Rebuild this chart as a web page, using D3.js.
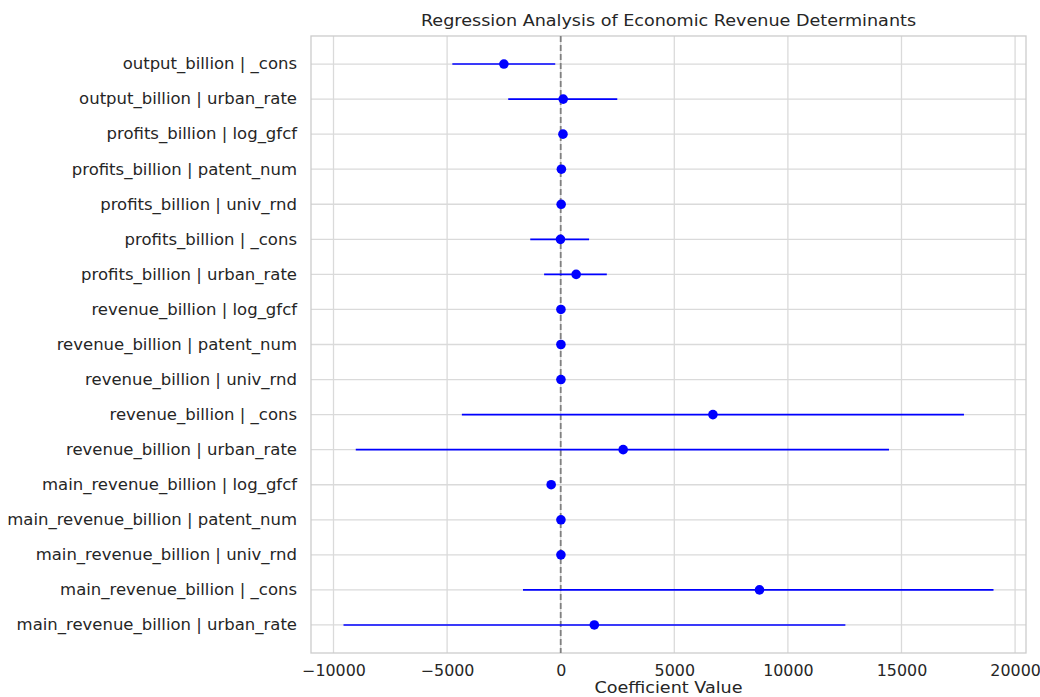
<!DOCTYPE html>
<html><head><meta charset="utf-8">
<script src="https://cdn.jsdelivr.net/npm/d3@7"></script>
<style>body{margin:0;background:#fff;} svg{display:block;}</style>
</head><body>
<svg id="chart" width="1040" height="697"></svg>
<script>
const categories = [
  "output_billion | _cons",
  "output_billion | urban_rate",
  "profits_billion | log_gfcf",
  "profits_billion | patent_num",
  "profits_billion | univ_rnd",
  "profits_billion | _cons",
  "profits_billion | urban_rate",
  "revenue_billion | log_gfcf",
  "revenue_billion | patent_num",
  "revenue_billion | univ_rnd",
  "revenue_billion | _cons",
  "revenue_billion | urban_rate",
  "main_revenue_billion | log_gfcf",
  "main_revenue_billion | patent_num",
  "main_revenue_billion | univ_rnd",
  "main_revenue_billion | _cons",
  "main_revenue_billion | urban_rate"
];
const coef  = [-2500, 110, 100, 30, 20, -10, 680, 10, 10, 10, 6700, 2750, -420, 10, 10, 8750, 1480];
const ciLow = [-4770, -2310, 60, 0, 0, -1340, -730, 0, 0, 0, -4350, -9020, -600, 0, 0, -1660, -9560];
const ciHigh= [-240, 2490, 140, 60, 40, 1250, 2030, 20, 20, 20, 17750, 14450, -240, 20, 20, 19050, 12530];
const xTicks = [-10000, -5000, 0, 5000, 10000, 15000, 20000];
const title = "Regression Analysis of Economic Revenue Determinants";
const xLabel = "Coefficient Value";

const W = 1040, H = 697;
const m = {left: 311, right: 14, top: 36, bottom: 44};
const svg = d3.select("#chart");
const font = "DejaVu Sans, sans-serif";
const textColor = "#262626";
const SX = 1.1; // horizontal stretch of text
const SXT = 1.06;

const lo = d3.min(ciLow), hi = d3.max(ciHigh), pad = (hi - lo) * 0.05;
const x = d3.scaleLinear().domain([lo - pad, hi + pad]).range([m.left, W - m.right]);
const y = d3.scalePoint().domain(categories).range([m.top, H - m.bottom]).padding(0.8);

const g = svg.append("g");
g.selectAll(".vg").data(xTicks).join("line")
  .attr("x1", d => x(d)).attr("x2", d => x(d))
  .attr("y1", m.top).attr("y2", H - m.bottom)
  .attr("stroke", "#dadada").attr("stroke-width", 1.3);
g.selectAll(".hg").data(categories).join("line")
  .attr("x1", m.left).attr("x2", W - m.right)
  .attr("y1", d => y(d)).attr("y2", d => y(d))
  .attr("stroke", "#dadada").attr("stroke-width", 1.3);
g.append("rect").attr("x", m.left).attr("y", m.top)
  .attr("width", W - m.left - m.right).attr("height", H - m.top - m.bottom)
  .attr("fill", "none").attr("stroke", "#cccccc").attr("stroke-width", 1.3);

g.append("line").attr("x1", x(0)).attr("x2", x(0))
  .attr("y1", m.top).attr("y2", H - m.bottom)
  .attr("stroke", "#808080").attr("stroke-width", 1.8).attr("stroke-dasharray", "6,3");

const data = categories.map((c, i) => ({c, v: coef[i], l: ciLow[i], h: ciHigh[i]}));
g.selectAll(".eb").data(data).join("line")
  .attr("x1", d => x(d.l)).attr("x2", d => x(d.h))
  .attr("y1", d => y(d.c)).attr("y2", d => y(d.c))
  .attr("stroke", "#0000ff").attr("stroke-width", 1.6);
g.selectAll(".pt").data(data).join("circle")
  .attr("cx", d => x(d.v)).attr("cy", d => y(d.c)).attr("r", 4.8)
  .attr("fill", "#0000ff");

const xa = svg.append("g").attr("transform", `translate(0,${H - m.bottom})`)
  .call(d3.axisBottom(x).tickValues(xTicks).tickSize(0).tickPadding(12).tickFormat(d3.format("d")));
const ya = svg.append("g").attr("transform", `translate(${m.left},0)`)
  .call(d3.axisLeft(y).tickSize(0).tickPadding(14));
[xa, ya].forEach(a => {
  a.select(".domain").remove();
  a.selectAll("text").attr("font-family", font).attr("font-size", 15).attr("fill", textColor);
});
xa.selectAll("text").text(d => d < 0 ? "\u2212" + Math.abs(d) : d).attr("transform", `scale(${SXT},1)`);
ya.selectAll("text").attr("x", -14 / SX).attr("transform", `scale(${SX},1)`);

const cx = (m.left + W - m.right) / 2;
svg.append("text").attr("transform", `translate(${cx},26) scale(${SX},1)`)
  .attr("text-anchor", "middle").attr("font-family", font).attr("font-size", 16)
  .attr("fill", textColor).text(title);
svg.append("text").attr("transform", `translate(${cx},693) scale(${SX},1)`)
  .attr("text-anchor", "middle").attr("font-family", font).attr("font-size", 16)
  .attr("fill", textColor).text(xLabel);
</script>
</body></html>
